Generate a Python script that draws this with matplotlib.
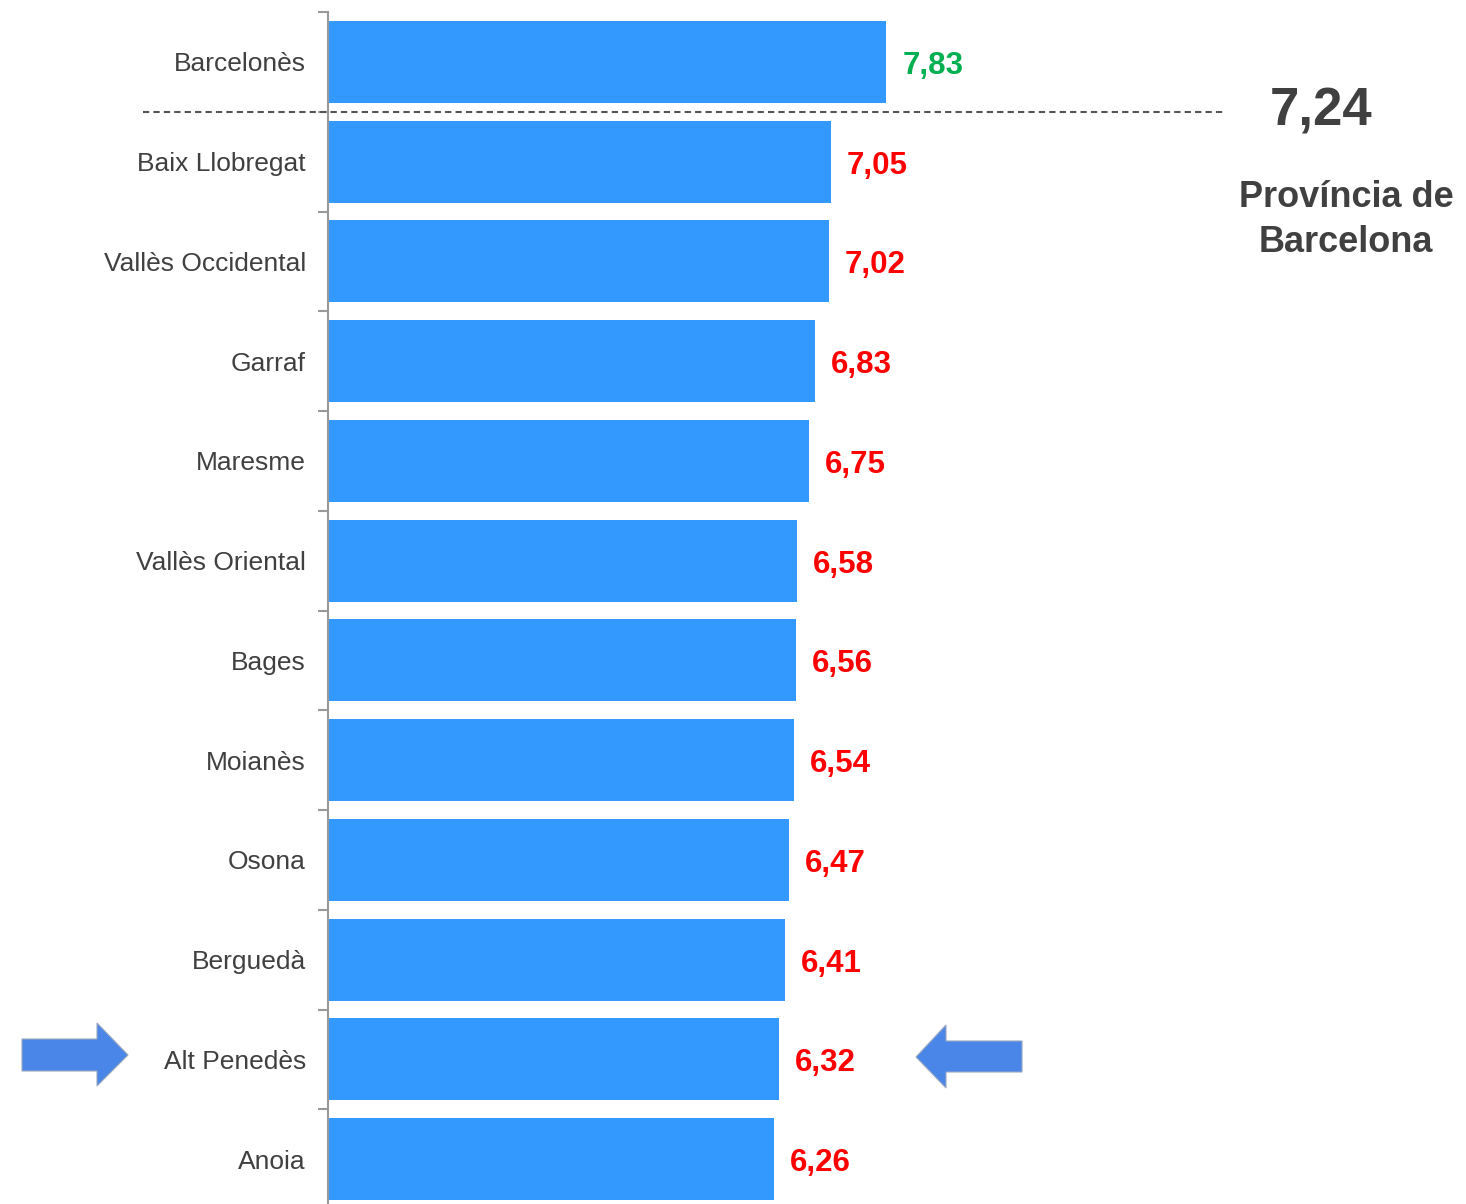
import matplotlib.pyplot as plt
from matplotlib.patches import Polygon

plt.rcParams['font.family'] = ['Liberation Sans', 'DejaVu Sans']

comarques = ['Barcelonès', 'Baix Llobregat', 'Vallès Occidental', 'Garraf', 'Maresme',
             'Vallès Oriental', 'Bages', 'Moianès', 'Osona', 'Berguedà', 'Alt Penedès', 'Anoia']
valors = [7.83, 7.05, 7.02, 6.83, 6.75, 6.58, 6.56, 6.54, 6.47, 6.41, 6.32, 6.26]
mitjana = 7.24
territori = 'Província de\nBarcelona'
destacada = 'Alt Penedès'

W, H = 1466, 1204
fig = plt.figure(figsize=(W / 100, H / 100), dpi=100)
px_per_unit = 71.3
ax = fig.add_axes([328 / W, -5 / H, (W - 328) / W, 1197 / H])

ys = list(range(len(comarques)))
ax.barh(ys, valors, height=0.82, color='#3399FF')
ax.set_xlim(0, (W - 328) / px_per_unit)
ax.set_ylim(len(comarques) - 0.5, -0.5)

# value labels: green if above the province average, red otherwise
for y, v in zip(ys, valors):
    col = '#00B050' if v > mitjana else '#FF0000'
    ax.text(v + 16 / px_per_unit, y + 0.04, f'{v:.2f}'.replace('.', ','), color=col,
            fontsize=22.5, fontweight='bold', va='center', ha='left')

# axis styling
for s in ['top', 'right', 'bottom']:
    ax.spines[s].set_visible(False)
ax.spines['left'].set_color('#999999')
ax.spines['left'].set_linewidth(1.5)
ax.set_xticks([])
ax.set_yticks(ys)
ax.set_yticklabels(comarques, fontsize=19, color='#404040')
ax.tick_params(axis='y', which='major', length=0, pad=16)
ax.set_yticks([y - 0.5 for y in ys] + [len(ys) - 0.5], minor=True)
ax.tick_params(axis='y', which='minor', length=7, width=1.5, color='#999999')

# dashed separator below the comarques above the average
n_above = sum(v > mitjana for v in valors)
ax.plot([(143 - 328) / px_per_unit, (1226 - 328) / px_per_unit],
        [n_above - 0.5, n_above - 0.5], ls=(0, (3, 2)), lw=1.5, color='#555555',
        clip_on=False, zorder=5)

# province average
fig.text(1321 / W, 1 - 112 / H, f'{mitjana:.2f}'.replace('.', ','), fontsize=38,
         fontweight='bold', color='#404040', ha='center', va='center')
fig.text(1346 / W, 1 - 220 / H, territori, fontsize=26, fontweight='bold',
         color='#404040', ha='center', va='center', linespacing=1.35)

# arrows pointing at the highlighted comarca
yc = 1055


def fig_poly(pts):
    return Polygon([(x / W, 1 - y / H) for x, y in pts], closed=True,
                   transform=fig.transFigure, facecolor='#4A86E8',
                   edgecolor='#9AA8C0', lw=0.8)


fig.add_artist(fig_poly([(22, yc - 16), (97, yc - 16), (97, yc - 32), (128, yc),
                         (97, yc + 31), (97, yc + 16), (22, yc + 16)]))
fig.add_artist(fig_poly([(1022, yc - 14), (946, yc - 14), (946, yc - 30), (916, yc + 2),
                         (946, yc + 33), (946, yc + 17), (1022, yc + 17)]))

fig.savefig('out.png', dpi=100)
